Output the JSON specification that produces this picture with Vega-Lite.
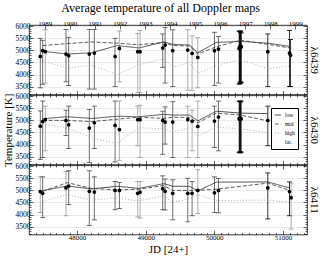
{
  "$schema": "https://vega.github.io/schema/vega-lite/v6.json",
  "padding": {"left": 1, "right": 0, "top": 1, "bottom": 0},
  "title": {"text": "Average temperature of all Doppler maps", "font": "Liberation Serif", "fontSize": 12, "fontWeight": "normal", "color": "#000", "offset": 4, "anchor": "middle"},
  "spacing": 0,
  "bounds": "flush",
  "datasets": {
    "obs": [
      {"p": 1, "jd": 47465, "t": 4750, "lo": 3450, "hi": 5500, "g": "dark"},
      {"p": 1, "jd": 47499, "t": 4986, "lo": 3600, "hi": 5420, "g": "dark"},
      {"p": 1, "jd": 47538, "t": 4944, "lo": 3650, "hi": 5850, "g": "light"},
      {"p": 1, "jd": 47839, "t": 4850, "lo": 3700, "hi": 5860, "g": "dark"},
      {"p": 1, "jd": 47878, "t": 4778, "lo": 3550, "hi": 5540, "g": "dark"},
      {"p": 1, "jd": 48179, "t": 4847, "lo": 3400, "hi": 5860, "g": "dark"},
      {"p": 1, "jd": 48252, "t": 4889, "lo": 3400, "hi": 5860, "g": "dark"},
      {"p": 1, "jd": 48554, "t": 4750, "lo": 3500, "hi": 5500, "g": "dark"},
      {"p": 1, "jd": 48617, "t": 5083, "lo": 3700, "hi": 5800, "g": "light"},
      {"p": 1, "jd": 48884, "t": 4944, "lo": 3250, "hi": 5700, "g": "light"},
      {"p": 1, "jd": 48918, "t": 4944, "lo": 3250, "hi": 5820, "g": "light"},
      {"p": 1, "jd": 49248, "t": 5097, "lo": 4300, "hi": 5680, "g": "dark"},
      {"p": 1, "jd": 49283, "t": 5222, "lo": 3650, "hi": 5950, "g": "dark"},
      {"p": 1, "jd": 49394, "t": 4986, "lo": 3500, "hi": 5850, "g": "dark"},
      {"p": 1, "jd": 49613, "t": 5014, "lo": 3350, "hi": 5850, "g": "light"},
      {"p": 1, "jd": 49676, "t": 4875, "lo": 3350, "hi": 5600, "g": "light"},
      {"p": 1, "jd": 49759, "t": 4708, "lo": 3450, "hi": 5540, "g": "light"},
      {"p": 1, "jd": 50002, "t": 4986, "lo": 3550, "hi": 5750, "g": "dark"},
      {"p": 1, "jd": 50060, "t": 5056, "lo": 3650, "hi": 5580, "g": "dark"},
      {"p": 1, "jd": 50362, "t": 5080, "lo": 3600, "hi": 5800, "g": "black"},
      {"p": 1, "jd": 50368, "t": 5110, "lo": 3650, "hi": 5780, "g": "black"},
      {"p": 1, "jd": 50374, "t": 5150, "lo": 3620, "hi": 5800, "g": "black"},
      {"p": 1, "jd": 50380, "t": 5180, "lo": 3700, "hi": 5750, "g": "black"},
      {"p": 1, "jd": 50386, "t": 5130, "lo": 3650, "hi": 5800, "g": "black"},
      {"p": 1, "jd": 50392, "t": 5160, "lo": 3680, "hi": 5720, "g": "black"},
      {"p": 1, "jd": 50779, "t": 4944, "lo": 3500, "hi": 5680, "g": "black"},
      {"p": 1, "jd": 51095, "t": 4889, "lo": 3500, "hi": 5820, "g": "black"},
      {"p": 1, "jd": 51110, "t": 4800, "lo": 3500, "hi": 5450, "g": "black"},
      {"p": 2, "jd": 47465, "t": 4762, "lo": 3390, "hi": 5390, "g": "dark"},
      {"p": 2, "jd": 47499, "t": 4958, "lo": 3460, "hi": 5800, "g": "dark"},
      {"p": 2, "jd": 47538, "t": 5028, "lo": 3740, "hi": 5590, "g": "light"},
      {"p": 2, "jd": 47839, "t": 5000, "lo": 4370, "hi": 5420, "g": "dark"},
      {"p": 2, "jd": 47878, "t": 4818, "lo": 3840, "hi": 5590, "g": "dark"},
      {"p": 2, "jd": 48179, "t": 4680, "lo": 3250, "hi": 5450, "g": "dark"},
      {"p": 2, "jd": 48252, "t": 4902, "lo": 3840, "hi": 5590, "g": "dark"},
      {"p": 2, "jd": 48554, "t": 4790, "lo": 3280, "hi": 5800, "g": "dark"},
      {"p": 2, "jd": 48617, "t": 4620, "lo": 3350, "hi": 5800, "g": "light"},
      {"p": 2, "jd": 48884, "t": 5030, "lo": 3950, "hi": 5590, "g": "light"},
      {"p": 2, "jd": 48918, "t": 5030, "lo": 3460, "hi": 5630, "g": "light"},
      {"p": 2, "jd": 49248, "t": 5000, "lo": 3600, "hi": 5380, "g": "dark"},
      {"p": 2, "jd": 49283, "t": 4930, "lo": 4020, "hi": 5560, "g": "dark"},
      {"p": 2, "jd": 49394, "t": 4930, "lo": 3460, "hi": 5770, "g": "dark"},
      {"p": 2, "jd": 49613, "t": 5030, "lo": 3460, "hi": 5590, "g": "light"},
      {"p": 2, "jd": 49676, "t": 4960, "lo": 3740, "hi": 5420, "g": "light"},
      {"p": 2, "jd": 49759, "t": 4750, "lo": 3460, "hi": 5800, "g": "light"},
      {"p": 2, "jd": 50002, "t": 4970, "lo": 3880, "hi": 5590, "g": "dark"},
      {"p": 2, "jd": 50060, "t": 5140, "lo": 3740, "hi": 5800, "g": "dark"},
      {"p": 2, "jd": 50362, "t": 5070, "lo": 3670, "hi": 5800, "g": "black"},
      {"p": 2, "jd": 50369, "t": 5050, "lo": 3700, "hi": 5780, "g": "black"},
      {"p": 2, "jd": 50376, "t": 5100, "lo": 3650, "hi": 5800, "g": "black"},
      {"p": 2, "jd": 50383, "t": 5080, "lo": 3700, "hi": 5760, "g": "black"},
      {"p": 2, "jd": 50390, "t": 5060, "lo": 3680, "hi": 5800, "g": "black"},
      {"p": 2, "jd": 50779, "t": 5000, "lo": 3950, "hi": 5590, "g": "black"},
      {"p": 3, "jd": 47465, "t": 4950, "lo": 4080, "hi": 5560, "g": "light"},
      {"p": 3, "jd": 47499, "t": 4880, "lo": 3870, "hi": 5560, "g": "dark"},
      {"p": 3, "jd": 47839, "t": 5100, "lo": 3950, "hi": 5780, "g": "light"},
      {"p": 3, "jd": 47878, "t": 5180, "lo": 4410, "hi": 5810, "g": "dark"},
      {"p": 3, "jd": 48179, "t": 4960, "lo": 3550, "hi": 5810, "g": "dark"},
      {"p": 3, "jd": 48252, "t": 4930, "lo": 3780, "hi": 5560, "g": "dark"},
      {"p": 3, "jd": 48554, "t": 5000, "lo": 4200, "hi": 5370, "g": "dark"},
      {"p": 3, "jd": 48617, "t": 5000, "lo": 4250, "hi": 5320, "g": "dark"},
      {"p": 3, "jd": 48884, "t": 4880, "lo": 3900, "hi": 5370, "g": "light"},
      {"p": 3, "jd": 48918, "t": 4930, "lo": 3850, "hi": 5370, "g": "light"},
      {"p": 3, "jd": 49248, "t": 5070, "lo": 4200, "hi": 5600, "g": "dark"},
      {"p": 3, "jd": 49283, "t": 4960, "lo": 4190, "hi": 5470, "g": "dark"},
      {"p": 3, "jd": 49394, "t": 4880, "lo": 3780, "hi": 5440, "g": "dark"},
      {"p": 3, "jd": 49613, "t": 4880, "lo": 3700, "hi": 5500, "g": "dark"},
      {"p": 3, "jd": 49676, "t": 4880, "lo": 3950, "hi": 5370, "g": "dark"},
      {"p": 3, "jd": 49759, "t": 5000, "lo": 4040, "hi": 5850, "g": "light"},
      {"p": 3, "jd": 50002, "t": 4900, "lo": 4080, "hi": 5560, "g": "dark"},
      {"p": 3, "jd": 50060, "t": 5000, "lo": 4070, "hi": 5490, "g": "dark"},
      {"p": 3, "jd": 50779, "t": 5100, "lo": 3820, "hi": 5720, "g": "black"},
      {"p": 3, "jd": 51095, "t": 4950, "lo": 3950, "hi": 5350, "g": "black"},
      {"p": 3, "jd": 51119, "t": 4700, "lo": 3400, "hi": 5300, "g": "light"}
    ],
    "lines": [
      {"p": 1, "type": "low", "jd": 47499, "t": 4960}, {"p": 1, "type": "low", "jd": 47858, "t": 4850}, {"p": 1, "type": "low", "jd": 48215, "t": 4900}, {"p": 1, "type": "low", "jd": 48585, "t": 5200}, {"p": 1, "type": "low", "jd": 48900, "t": 5100}, {"p": 1, "type": "low", "jd": 49265, "t": 5350}, {"p": 1, "type": "low", "jd": 49394, "t": 5250}, {"p": 1, "type": "low", "jd": 49640, "t": 5220}, {"p": 1, "type": "low", "jd": 49759, "t": 4900}, {"p": 1, "type": "low", "jd": 50030, "t": 5330}, {"p": 1, "type": "low", "jd": 50380, "t": 5370}, {"p": 1, "type": "low", "jd": 50779, "t": 5300}, {"p": 1, "type": "low", "jd": 51100, "t": 5160},
      {"p": 1, "type": "mid", "jd": 47499, "t": 5200}, {"p": 1, "type": "mid", "jd": 47858, "t": 5280}, {"p": 1, "type": "mid", "jd": 48215, "t": 5350}, {"p": 1, "type": "mid", "jd": 48585, "t": 5300}, {"p": 1, "type": "mid", "jd": 48900, "t": 5230}, {"p": 1, "type": "mid", "jd": 49265, "t": 5330}, {"p": 1, "type": "mid", "jd": 49394, "t": 5200}, {"p": 1, "type": "mid", "jd": 49640, "t": 5180}, {"p": 1, "type": "mid", "jd": 49759, "t": 4850}, {"p": 1, "type": "mid", "jd": 50030, "t": 5150}, {"p": 1, "type": "mid", "jd": 50380, "t": 5420}, {"p": 1, "type": "mid", "jd": 50779, "t": 5250}, {"p": 1, "type": "mid", "jd": 51100, "t": 5100},
      {"p": 1, "type": "high", "jd": 47499, "t": 4560}, {"p": 1, "type": "high", "jd": 47858, "t": 4270}, {"p": 1, "type": "high", "jd": 48215, "t": 4380}, {"p": 1, "type": "high", "jd": 48585, "t": 4000}, {"p": 1, "type": "high", "jd": 48900, "t": 4400}, {"p": 1, "type": "high", "jd": 49265, "t": 4650}, {"p": 1, "type": "high", "jd": 49394, "t": 4300}, {"p": 1, "type": "high", "jd": 49640, "t": 4500}, {"p": 1, "type": "high", "jd": 49759, "t": 4050}, {"p": 1, "type": "high", "jd": 50030, "t": 4380}, {"p": 1, "type": "high", "jd": 50380, "t": 4620}, {"p": 1, "type": "high", "jd": 50779, "t": 4250}, {"p": 1, "type": "high", "jd": 51100, "t": 4350},
      {"p": 2, "type": "low", "jd": 47499, "t": 5070}, {"p": 2, "type": "low", "jd": 47858, "t": 5150}, {"p": 2, "type": "low", "jd": 48215, "t": 5080}, {"p": 2, "type": "low", "jd": 48585, "t": 5170}, {"p": 2, "type": "low", "jd": 48900, "t": 5150}, {"p": 2, "type": "low", "jd": 49265, "t": 5250}, {"p": 2, "type": "low", "jd": 49394, "t": 5220}, {"p": 2, "type": "low", "jd": 49640, "t": 5220}, {"p": 2, "type": "low", "jd": 49759, "t": 4980}, {"p": 2, "type": "low", "jd": 50030, "t": 5380}, {"p": 2, "type": "low", "jd": 50380, "t": 5300}, {"p": 2, "type": "low", "jd": 50779, "t": 5280},
      {"p": 2, "type": "mid", "jd": 47499, "t": 5000}, {"p": 2, "type": "mid", "jd": 47858, "t": 5000}, {"p": 2, "type": "mid", "jd": 48215, "t": 4950}, {"p": 2, "type": "mid", "jd": 48585, "t": 5050}, {"p": 2, "type": "mid", "jd": 48900, "t": 5130}, {"p": 2, "type": "mid", "jd": 49265, "t": 5080}, {"p": 2, "type": "mid", "jd": 49394, "t": 5130}, {"p": 2, "type": "mid", "jd": 49640, "t": 5120}, {"p": 2, "type": "mid", "jd": 49759, "t": 4900}, {"p": 2, "type": "mid", "jd": 50030, "t": 5300}, {"p": 2, "type": "mid", "jd": 50380, "t": 5220}, {"p": 2, "type": "mid", "jd": 50779, "t": 4980},
      {"p": 2, "type": "high", "jd": 47499, "t": 4870}, {"p": 2, "type": "high", "jd": 47858, "t": 4680}, {"p": 2, "type": "high", "jd": 48215, "t": 4280}, {"p": 2, "type": "high", "jd": 48585, "t": 4050}, {"p": 2, "type": "high", "jd": 48900, "t": 4700}, {"p": 2, "type": "high", "jd": 49265, "t": 4650}, {"p": 2, "type": "high", "jd": 49394, "t": 4520}, {"p": 2, "type": "high", "jd": 49640, "t": 4700}, {"p": 2, "type": "high", "jd": 49759, "t": 4350}, {"p": 2, "type": "high", "jd": 50030, "t": 4720}, {"p": 2, "type": "high", "jd": 50380, "t": 4650}, {"p": 2, "type": "high", "jd": 50779, "t": 4480},
      {"p": 3, "type": "low", "jd": 47499, "t": 4990}, {"p": 3, "type": "low", "jd": 47858, "t": 5180}, {"p": 3, "type": "low", "jd": 48215, "t": 5060}, {"p": 3, "type": "low", "jd": 48585, "t": 5170}, {"p": 3, "type": "low", "jd": 48900, "t": 5080}, {"p": 3, "type": "low", "jd": 49265, "t": 5280}, {"p": 3, "type": "low", "jd": 49394, "t": 5170}, {"p": 3, "type": "low", "jd": 49640, "t": 5170}, {"p": 3, "type": "low", "jd": 49759, "t": 4980}, {"p": 3, "type": "low", "jd": 50030, "t": 5340}, {"p": 3, "type": "low", "jd": 50779, "t": 5350}, {"p": 3, "type": "low", "jd": 51100, "t": 5100},
      {"p": 3, "type": "mid", "jd": 47499, "t": 4960}, {"p": 3, "type": "mid", "jd": 47858, "t": 5320}, {"p": 3, "type": "mid", "jd": 48215, "t": 5080}, {"p": 3, "type": "mid", "jd": 48585, "t": 5020}, {"p": 3, "type": "mid", "jd": 48900, "t": 5050}, {"p": 3, "type": "mid", "jd": 49265, "t": 5200}, {"p": 3, "type": "mid", "jd": 49394, "t": 5000}, {"p": 3, "type": "mid", "jd": 49640, "t": 5000}, {"p": 3, "type": "mid", "jd": 49759, "t": 5000}, {"p": 3, "type": "mid", "jd": 50030, "t": 5050}, {"p": 3, "type": "mid", "jd": 50779, "t": 5300}, {"p": 3, "type": "mid", "jd": 51100, "t": 5000},
      {"p": 3, "type": "high", "jd": 47499, "t": 4550}, {"p": 3, "type": "high", "jd": 47858, "t": 4820}, {"p": 3, "type": "high", "jd": 48215, "t": 4600}, {"p": 3, "type": "high", "jd": 48585, "t": 4680}, {"p": 3, "type": "high", "jd": 48900, "t": 4560}, {"p": 3, "type": "high", "jd": 49265, "t": 4780}, {"p": 3, "type": "high", "jd": 49394, "t": 4500}, {"p": 3, "type": "high", "jd": 49640, "t": 4650}, {"p": 3, "type": "high", "jd": 49759, "t": 4820}, {"p": 3, "type": "high", "jd": 50030, "t": 4580}, {"p": 3, "type": "high", "jd": 50779, "t": 4600}, {"p": 3, "type": "high", "jd": 51100, "t": 4500}
    ]
  },
  "vconcat": [
    {
      "width": 278, "height": 69.5,
      "layer": [
        {
          "data": {"name": "obs"}, "transform": [{"filter": "datum.p === 1"}],
          "mark": {"type": "errorbar", "ticks": {"size": 5}, "thickness": 0.8, "opacity": 1},
          "encoding": {
            "x": {"field": "jd", "type": "quantitative", "scale": {"domain": [47300, 51350], "nice": false, "zero": false},
                  "axis": {"orient": "bottom", "values": [47400,47500,47600,47700,47800,47900,48000,48100,48200,48300,48400,48500,48600,48700,48800,48900,49000,49100,49200,49300,49400,49500,49600,49700,49800,49900,50000,50100,50200,50300,50400,50500,50600,50700,50800,50900,51000,51100,51200,51300], "labels": false, "title": null, "domain": false, "grid": false, "tickSize": {"condition": {"test": "datum.value % 1000 === 0", "value": -4}, "value": -2}}},
            "y": {"field": "lo", "type": "quantitative", "scale": {"domain": [3175, 6050], "nice": false, "zero": false},
                  "axis": {"orient": "left", "values": [3200,3300,3400,3500,3600,3700,3800,3900,4000,4100,4200,4300,4400,4500,4600,4700,4800,4900,5000,5100,5200,5300,5400,5500,5600,5700,5800,5900,6000], "format": "d", "labelExpr": "datum.value % 500 === 0 ? datum.label : ''", "labelFontSize": 7.5, "labelPadding": 3, "title": null, "domain": false, "grid": true, "gridColor": "#d4d4d4", "gridWidth": 0.5, "gridOpacity": {"condition": {"test": "datum.value % 500 === 0", "value": 1}, "value": 0}, "tickSize": {"condition": {"test": "datum.value % 500 === 0", "value": -4}, "value": -2}}},
            "y2": {"field": "hi"},
            "color": {"field": "g", "type": "nominal", "scale": {"domain": ["dark", "light", "black"], "range": ["#4a4a4a", "#999999", "#000000"]}, "legend": null}
          }
        },
        {
          "data": {"name": "lines"}, "transform": [{"filter": "datum.p === 1"}],
          "mark": {"type": "line", "strokeWidth": 0.8},
          "encoding": {
            "x": {"field": "jd", "type": "quantitative", "axis": null},
            "y": {"field": "t", "type": "quantitative", "axis": null},
            "stroke": {"field": "type", "type": "nominal", "scale": {"domain": ["low", "mid", "high", "lat."], "range": ["#222222", "#333333", "#9a9a9a", "#ffffff"]}, "legend": null},
            "strokeDash": {"field": "type", "type": "nominal", "scale": {"domain": ["low", "mid", "high", "lat."], "range": [[1, 0], [4, 2], [1, 2], [1, 0]]}, "legend": null}
          }
        },
        {
          "data": {"name": "obs"}, "transform": [{"filter": "datum.p === 1"}],
          "mark": {"type": "circle", "size": 14, "color": "#000", "opacity": 1},
          "encoding": {
            "x": {"field": "jd", "type": "quantitative", "axis": null},
            "y": {"field": "t", "type": "quantitative", "axis": null}
          }
        },
        {
          "data": {"name": "obs"}, "transform": [{"filter": "datum.p === 1"}],
          "mark": {"type": "point", "opacity": 0},
          "encoding": {
            "x": {"field": "jd", "type": "quantitative",
                  "axis": {"orient": "top", "values": [47528, 47893, 48258, 48623, 48989, 49354, 49719, 50084, 50450, 50815, 51180], "labelExpr": "format(1989 + round((datum.value - 47528) / 365.25), 'd')", "labelPadding": 3, "labelFontSize": 7, "title": null, "domain": false, "grid": false, "tickSize": -4}},
            "y": {"field": "t", "type": "quantitative",
                  "axis": {"orient": "right", "values": [3200,3300,3400,3500,3600,3700,3800,3900,4000,4100,4200,4300,4400,4500,4600,4700,4800,4900,5000,5100,5200,5300,5400,5500,5600,5700,5800,5900,6000], "labels": false, "domain": false, "grid": false, "tickSize": {"condition": {"test": "datum.value % 500 === 0", "value": -4}, "value": -2}, "title": "λ6439", "titleAngle": 90, "titlePadding": 1, "titleFontSize": 11}}
          }
        }
      ],
      "resolve": {"axis": {"x": "independent", "y": "independent"}}
    },
    {
      "width": 278, "height": 69.5,
      "layer": [
        {
          "data": {"name": "obs"}, "transform": [{"filter": "datum.p === 2"}],
          "mark": {"type": "errorbar", "ticks": {"size": 5}, "thickness": 0.8, "opacity": 1},
          "encoding": {
            "x": {"field": "jd", "type": "quantitative", "scale": {"domain": [47300, 51350], "nice": false, "zero": false},
                  "axis": {"orient": "bottom", "values": [47400,47500,47600,47700,47800,47900,48000,48100,48200,48300,48400,48500,48600,48700,48800,48900,49000,49100,49200,49300,49400,49500,49600,49700,49800,49900,50000,50100,50200,50300,50400,50500,50600,50700,50800,50900,51000,51100,51200,51300], "labels": false, "title": null, "domain": false, "grid": false, "tickSize": {"condition": {"test": "datum.value % 1000 === 0", "value": -4}, "value": -2}}},
            "y": {"field": "lo", "type": "quantitative", "scale": {"domain": [3175, 6050], "nice": false, "zero": false},
                  "axis": {"orient": "left", "values": [3200,3300,3400,3500,3600,3700,3800,3900,4000,4100,4200,4300,4400,4500,4600,4700,4800,4900,5000,5100,5200,5300,5400,5500,5600,5700,5800,5900,6000], "format": "d", "labelExpr": "datum.value % 500 === 0 ? datum.label : ''", "labelFontSize": 7.5, "labelPadding": 3, "title": "Temperature [K]", "titleFontSize": 11, "titlePadding": 2, "domain": false, "grid": true, "gridColor": "#d4d4d4", "gridWidth": 0.5, "gridOpacity": {"condition": {"test": "datum.value % 500 === 0", "value": 1}, "value": 0}, "tickSize": {"condition": {"test": "datum.value % 500 === 0", "value": -4}, "value": -2}}},
            "y2": {"field": "hi"},
            "color": {"field": "g", "type": "nominal", "scale": {"domain": ["dark", "light", "black"], "range": ["#4a4a4a", "#999999", "#000000"]}, "legend": null}
          }
        },
        {
          "data": {"name": "lines"}, "transform": [{"filter": "datum.p === 2"}],
          "mark": {"type": "line", "strokeWidth": 0.8},
          "encoding": {
            "x": {"field": "jd", "type": "quantitative", "axis": null},
            "y": {"field": "t", "type": "quantitative", "axis": null},
            "stroke": {"field": "type", "type": "nominal", "scale": {"domain": ["low", "mid", "high", "lat."], "range": ["#222222", "#333333", "#9a9a9a", "#ffffff"]},
                       "legend": {"orient": "none", "legendX": 242, "legendY": 13, "title": null, "symbolType": "stroke", "symbolStrokeWidth": 0.8, "symbolSize": 40, "labelFontSize": 5.5, "labelFont": "Liberation Serif", "labelColor": "#000", "strokeColor": "#000", "fillColor": "#fff", "padding": 3, "rowPadding": 1, "labelOffset": 3, "symbolOffset": 0}},
            "strokeDash": {"field": "type", "type": "nominal", "scale": {"domain": ["low", "mid", "high", "lat."], "range": [[1, 0], [4, 2], [1, 2], [1, 0]]},
                       "legend": {"orient": "none", "legendX": 242, "legendY": 13, "title": null, "symbolType": "stroke", "symbolStrokeWidth": 0.8, "symbolSize": 40, "labelFontSize": 5.5, "labelFont": "Liberation Serif", "labelColor": "#000", "strokeColor": "#000", "fillColor": "#fff", "padding": 3, "rowPadding": 1, "labelOffset": 3, "symbolOffset": 0}}
          }
        },
        {
          "data": {"name": "obs"}, "transform": [{"filter": "datum.p === 2"}],
          "mark": {"type": "circle", "size": 14, "color": "#000", "opacity": 1},
          "encoding": {
            "x": {"field": "jd", "type": "quantitative", "axis": null},
            "y": {"field": "t", "type": "quantitative", "axis": null}
          }
        },
        {
          "data": {"name": "obs"}, "transform": [{"filter": "datum.p === 2"}],
          "mark": {"type": "point", "opacity": 0},
          "encoding": {
            "x": {"field": "jd", "type": "quantitative",
                  "axis": {"orient": "top", "values": [47400,47500,47600,47700,47800,47900,48000,48100,48200,48300,48400,48500,48600,48700,48800,48900,49000,49100,49200,49300,49400,49500,49600,49700,49800,49900,50000,50100,50200,50300,50400,50500,50600,50700,50800,50900,51000,51100,51200,51300], "labels": false, "title": null, "domain": false, "grid": false, "tickSize": {"condition": {"test": "datum.value % 1000 === 0", "value": -4}, "value": -2}}},
            "y": {"field": "t", "type": "quantitative",
                  "axis": {"orient": "right", "values": [3200,3300,3400,3500,3600,3700,3800,3900,4000,4100,4200,4300,4400,4500,4600,4700,4800,4900,5000,5100,5200,5300,5400,5500,5600,5700,5800,5900,6000], "labels": false, "domain": false, "grid": false, "tickSize": {"condition": {"test": "datum.value % 500 === 0", "value": -4}, "value": -2}, "title": "λ6430", "titleAngle": 90, "titlePadding": 1, "titleFontSize": 11}}
          }
        }
      ],
      "resolve": {"axis": {"x": "independent", "y": "independent"}}
    },
    {
      "width": 278, "height": 69.5,
      "layer": [
        {
          "data": {"name": "obs"}, "transform": [{"filter": "datum.p === 3"}],
          "mark": {"type": "errorbar", "ticks": {"size": 5}, "thickness": 0.8, "opacity": 1},
          "encoding": {
            "x": {"field": "jd", "type": "quantitative", "scale": {"domain": [47300, 51350], "nice": false, "zero": false},
                  "axis": {"orient": "bottom", "values": [47400,47500,47600,47700,47800,47900,48000,48100,48200,48300,48400,48500,48600,48700,48800,48900,49000,49100,49200,49300,49400,49500,49600,49700,49800,49900,50000,50100,50200,50300,50400,50500,50600,50700,50800,50900,51000,51100,51200,51300], "format": "d", "labelExpr": "datum.value % 1000 === 0 ? datum.label : ''", "labelFontSize": 7, "labelPadding": 3, "title": "JD [24+]", "titleFontSize": 11, "titlePadding": 1, "domain": false, "grid": false, "tickSize": {"condition": {"test": "datum.value % 1000 === 0", "value": -4}, "value": -2}}},
            "y": {"field": "lo", "type": "quantitative", "scale": {"domain": [3175, 6050], "nice": false, "zero": false},
                  "axis": {"orient": "left", "values": [3200,3300,3400,3500,3600,3700,3800,3900,4000,4100,4200,4300,4400,4500,4600,4700,4800,4900,5000,5100,5200,5300,5400,5500,5600,5700,5800,5900,6000], "format": "d", "labelExpr": "datum.value % 500 === 0 ? datum.label : ''", "labelFontSize": 7.5, "labelPadding": 3, "title": null, "domain": false, "grid": true, "gridColor": "#d4d4d4", "gridWidth": 0.5, "gridOpacity": {"condition": {"test": "datum.value % 500 === 0", "value": 1}, "value": 0}, "tickSize": {"condition": {"test": "datum.value % 500 === 0", "value": -4}, "value": -2}}},
            "y2": {"field": "hi"},
            "color": {"field": "g", "type": "nominal", "scale": {"domain": ["dark", "light", "black"], "range": ["#4a4a4a", "#999999", "#000000"]}, "legend": null}
          }
        },
        {
          "data": {"name": "lines"}, "transform": [{"filter": "datum.p === 3"}],
          "mark": {"type": "line", "strokeWidth": 0.8},
          "encoding": {
            "x": {"field": "jd", "type": "quantitative", "axis": null},
            "y": {"field": "t", "type": "quantitative", "axis": null},
            "stroke": {"field": "type", "type": "nominal", "scale": {"domain": ["low", "mid", "high", "lat."], "range": ["#222222", "#333333", "#9a9a9a", "#ffffff"]}, "legend": null},
            "strokeDash": {"field": "type", "type": "nominal", "scale": {"domain": ["low", "mid", "high", "lat."], "range": [[1, 0], [4, 2], [1, 2], [1, 0]]}, "legend": null}
          }
        },
        {
          "data": {"name": "obs"}, "transform": [{"filter": "datum.p === 3"}],
          "mark": {"type": "circle", "size": 14, "color": "#000", "opacity": 1},
          "encoding": {
            "x": {"field": "jd", "type": "quantitative", "axis": null},
            "y": {"field": "t", "type": "quantitative", "axis": null}
          }
        },
        {
          "data": {"name": "obs"}, "transform": [{"filter": "datum.p === 3"}],
          "mark": {"type": "point", "opacity": 0},
          "encoding": {
            "x": {"field": "jd", "type": "quantitative",
                  "axis": {"orient": "top", "values": [47400,47500,47600,47700,47800,47900,48000,48100,48200,48300,48400,48500,48600,48700,48800,48900,49000,49100,49200,49300,49400,49500,49600,49700,49800,49900,50000,50100,50200,50300,50400,50500,50600,50700,50800,50900,51000,51100,51200,51300], "labels": false, "title": null, "domain": false, "grid": false, "tickSize": {"condition": {"test": "datum.value % 1000 === 0", "value": -4}, "value": -2}}},
            "y": {"field": "t", "type": "quantitative",
                  "axis": {"orient": "right", "values": [3200,3300,3400,3500,3600,3700,3800,3900,4000,4100,4200,4300,4400,4500,4600,4700,4800,4900,5000,5100,5200,5300,5400,5500,5600,5700,5800,5900,6000], "labels": false, "domain": false, "grid": false, "tickSize": {"condition": {"test": "datum.value % 500 === 0", "value": -4}, "value": -2}, "title": "λ6411", "titleAngle": 90, "titlePadding": 1, "titleFontSize": 11}}
          }
        }
      ],
      "resolve": {"axis": {"x": "independent", "y": "independent"}}
    }
  ],
  "resolve": {"scale": {"color": "independent", "stroke": "independent", "strokeDash": "independent"}},
  "config": {
    "font": "Liberation Serif",
    "view": {"stroke": "#000", "strokeWidth": 0.8},
    "axis": {"labelFont": "Liberation Serif", "titleFont": "Liberation Serif", "labelColor": "#000", "titleColor": "#000", "tickColor": "#000", "tickWidth": 0.6, "titleFontWeight": "normal", "labelFontSize": 7, "titleFontSize": 11, "labelOverlap": false, "labelFlush": false, "labelBound": false}
  }
}
